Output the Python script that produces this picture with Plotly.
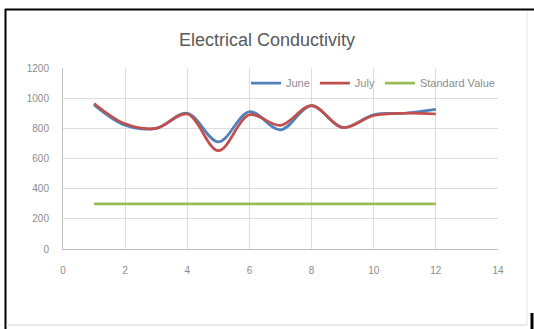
import plotly.graph_objects as go

# Monthly sampling points (1..12) and measured conductivity
months = list(range(1, 13))
june = [955, 820, 800, 900, 710, 910, 790, 950, 805, 890, 900, 925]
july = [965, 830, 800, 895, 652, 890, 820, 950, 805, 885, 900, 895]
standard = [300] * 12

x_ticks = [0, 2, 4, 6, 8, 10, 12, 14]
y_ticks = [0, 200, 400, 600, 800, 1000, 1200]

W, H = 534, 329
ML, MR, MT, MB = 63, 36, 68, 80
PW, PH = W - ML - MR, H - MT - MB


def px(xp):
    return (xp - ML) / PW


def py(yp):
    return (H - MB - yp) / PH


FONT = "Liberation Sans, Arial, sans-serif"

fig = go.Figure()
fig.add_trace(go.Scatter(x=months, y=june, name="June", mode="lines",
                         line=dict(color="#4F81BD", width=2.75, shape="spline", smoothing=1.0)))
fig.add_trace(go.Scatter(x=months, y=july, name="July", mode="lines",
                         line=dict(color="#C0504D", width=2.75, shape="spline", smoothing=1.0)))
fig.add_trace(go.Scatter(x=months, y=standard, name="Standard Value", mode="lines",
                         line=dict(color="#9BBB59", width=2.75)))

grid = "#DDDDDD"
tick_font = dict(family=FONT, size=10, color="#8C8C8C")

fig.update_layout(
    width=W, height=H,
    margin=dict(l=ML, r=MR, t=MT, b=MB),
    paper_bgcolor="white", plot_bgcolor="white",
    title=dict(text="Electrical Conductivity", x=0.5, xanchor="center",
               y=1 - 40 / H, yanchor="middle",
               font=dict(family=FONT, size=18, color="#595959")),
    xaxis=dict(range=[0, 14], tickvals=x_ticks, showgrid=True, gridcolor=grid, gridwidth=1,
               zeroline=False, showline=True, linecolor="#BFBFBF", linewidth=1,
               tickfont=tick_font, ticks="", ticklabelstandoff=12, fixedrange=True),
    yaxis=dict(range=[0, 1200], tickvals=y_ticks, showgrid=True, gridcolor=grid, gridwidth=1,
               zeroline=False, showline=True, linecolor="#BFBFBF", linewidth=1,
               tickfont=tick_font, ticks="", ticklabelstandoff=11, fixedrange=True),
    legend=dict(orientation="h", x=px(500), xanchor="right", y=py(83), yanchor="middle",
                bgcolor="rgba(255,255,255,0)",
                font=dict(family=FONT, size=11, color="#8C8C8C"),
                itemwidth=30, tracegroupgap=0),
    showlegend=True,
    shapes=[
        # outer chart frame
        dict(type="line", xref="paper", yref="paper", x0=px(5), x1=px(534), y0=py(9.5), y1=py(9.5),
             line=dict(color="black", width=2)),
        dict(type="line", xref="paper", yref="paper", x0=px(5.5), x1=px(5.5), y0=py(9), y1=py(329),
             line=dict(color="black", width=2)),
        dict(type="line", xref="paper", yref="paper", x0=px(6), x1=px(527), y0=py(325), y1=py(325),
             line=dict(color="#D0D0D0", width=1)),
        dict(type="line", xref="paper", yref="paper", x0=px(527), x1=px(527), y0=py(11), y1=py(325),
             line=dict(color="#E6E6E6", width=1)),
        dict(type="line", xref="paper", yref="paper", x0=px(532), x1=px(532), y0=py(313), y1=py(329),
             line=dict(color="black", width=3)),
    ],
)

fig.write_html("out.html")
